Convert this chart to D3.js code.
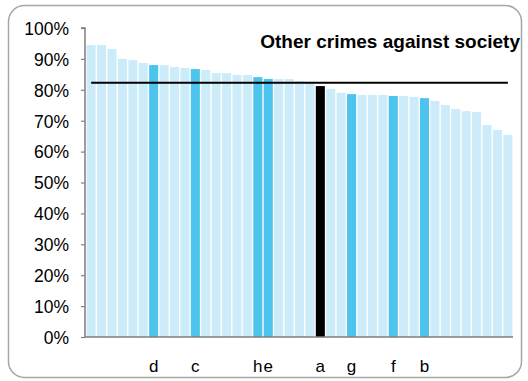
<!DOCTYPE html>
<html>
<head>
<meta charset="utf-8">
<script src="https://cdn.jsdelivr.net/npm/d3@7"></script>
<style>
html,body{margin:0;padding:0;background:#fff;}
svg{display:block;}
text{font-family:"Liberation Sans",Arial,sans-serif;fill:#000;}
</style>
</head>
<body>
<svg id="chart" width="528" height="381"></svg>
<script>
// Data
const labels = ["","","","","","","d","","","","c","","","","","","h","e","","","","","a","","","g","","","","f","","","b","","","","","","","",""];
const values = [94.5,94.5,93.2,90.0,89.6,88.7,88.0,88.0,87.4,87.1,86.7,86.4,85.4,85.4,84.8,84.8,84.1,83.5,83.5,83.5,82.8,82.3,81.2,80.3,79.0,78.6,78.3,78.3,78.3,78.0,78.0,77.7,77.3,76.4,75.1,73.8,73.1,72.8,68.6,67.0,65.4];
const average = [82.3];
const yTicks = [0,10,20,30,40,50,60,70,80,90,100];
const title = ["Other crimes against society"];

const svg = d3.select("#chart");
const margin = {left:85, right:15, top:28, bottom:44};
const W = 528, H = 381;
const x0 = 85, x1 = 513, y0 = 337, y1 = 28;

// frame
svg.append("rect").attr("x",8.5).attr("y",5.5).attr("width",513).attr("height",372)
  .attr("rx",16).attr("ry",16).attr("fill","#fff").attr("stroke","#a6a6a6").attr("stroke-width",1.5);

const idx = values.map((d,i)=>i);
const x = d3.scaleBand().domain(idx).range([x0+1,x1]).paddingInner(0.13).paddingOuter(0.06);
const y = d3.scaleLinear().domain([0,100]).range([y0,y1]);

function color(i){
  if (labels[i]==="a") return "#000000";
  if (labels[i]!=="") return "#4cc4ed";
  return "#cdecf9";
}

svg.append("g").selectAll("rect").data(values).join("rect")
  .attr("x",(d,i)=>x(i)).attr("width",x.bandwidth())
  .attr("y",d=>y(d)).attr("height",d=>y(0)-y(d))
  .attr("fill",(d,i)=>color(i));

// y axis
const yAxis = d3.axisLeft(y).tickValues(yTicks).tickFormat(d=>d+"%").tickSize(4).tickPadding(12);
const gy = svg.append("g").attr("transform",`translate(${x0},0)`).call(yAxis);
gy.select(".domain").attr("stroke","#7f7f7f").attr("stroke-width",1.5).attr("d",`M-4,${y1}H0V${y0}`);
gy.selectAll(".tick line").attr("stroke","#7f7f7f").attr("stroke-width",1.2);
gy.selectAll(".tick text").attr("font-size","17.5px").attr("font-family","Liberation Sans, Arial, sans-serif").attr("fill","#000").attr("dy","0.36em");

// x axis
const xAxis = d3.axisBottom(x).tickFormat(i=>labels[i]).tickSize(0).tickPadding(23);
const gx = svg.append("g").attr("transform",`translate(0,${y0})`).call(xAxis);
gx.select(".domain").attr("stroke","#7f7f7f").attr("stroke-width",1.5).attr("d",`M${x0},0H${x1}`);
gx.selectAll(".tick text").attr("font-size","17px").attr("font-family","Liberation Sans, Arial, sans-serif").attr("fill","#000");

// average line
svg.append("line")
  .attr("x1",x(0)+x.bandwidth()/2).attr("x2",x(values.length-1)+x.bandwidth()/2)
  .attr("y1",y(average[0])).attr("y2",y(average[0]))
  .attr("stroke","#000").attr("stroke-width",2);

// title
svg.append("text").attr("x",520).attr("y",48).attr("text-anchor","end")
  .attr("font-size","19px").attr("font-weight","bold").text(title[0]);
</script>
</body>
</html>
